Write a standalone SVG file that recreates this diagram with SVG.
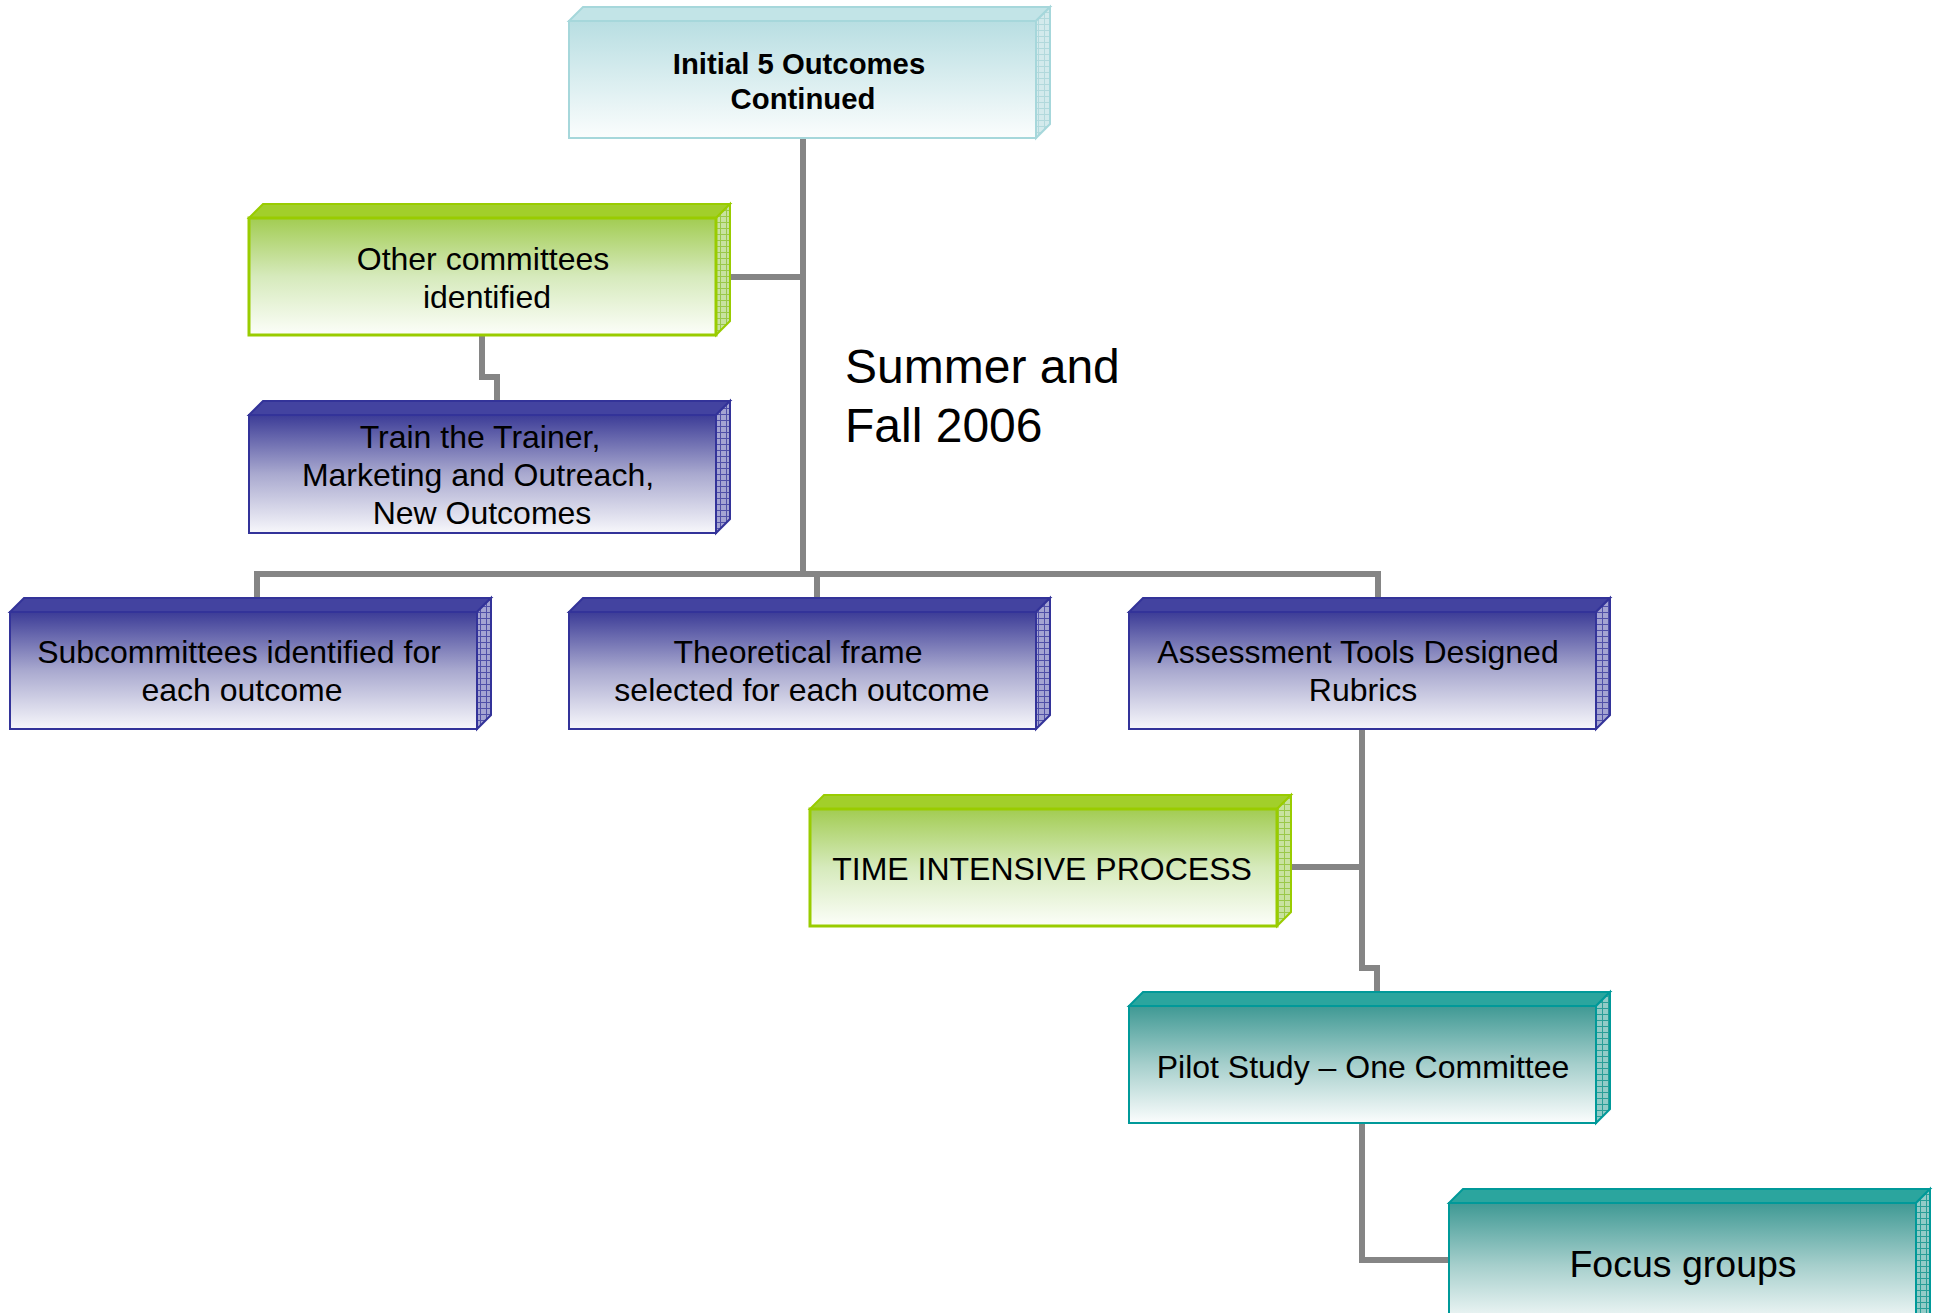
<svg xmlns="http://www.w3.org/2000/svg" width="1939" height="1313" viewBox="0 0 1939 1313">
<style>
  .t { font-family: "Liberation Sans", Arial, sans-serif; font-size: 32px; fill: #000; text-anchor: middle; }
  .tb { font-weight: bold; font-size: 29.3px; }
  .conn { fill: none; stroke: #858585; stroke-width: 6; stroke-linejoin: miter; stroke-linecap: butt; }
  .cy .front { fill: url(#gCy); stroke: #a6d7db; stroke-width: 2; }
  .cy .top { fill: #c2e4e7; stroke: #a6d7db; stroke-width: 2; }
  .cy .side { fill: url(#pCy); stroke: #a6d7db; stroke-width: 2; }
  .gr .front { fill: url(#gGr); stroke: #99cc00; stroke-width: 3; }
  .gr .top { fill: #a2cf2a; stroke: #99cc00; stroke-width: 2; }
  .gr .side { fill: url(#pGr); stroke: #99cc00; stroke-width: 2; }
  .bl .front { fill: url(#gBl); stroke: #333399; stroke-width: 2; }
  .bl .top { fill: #4343a0; stroke: #333399; stroke-width: 2; }
  .bl .side { fill: url(#pBl); stroke: #333399; stroke-width: 2; }
  .te .front { fill: url(#gTe); stroke: #009999; stroke-width: 2; }
  .te .top { fill: #2ba59e; stroke: #009999; stroke-width: 2; }
  .te .side { fill: url(#pTe); stroke: #009999; stroke-width: 2; }
</style>
<defs>
  <linearGradient id="gCy" x1="0" y1="0" x2="0" y2="1">
    <stop offset="0" stop-color="#b8dee2"/>
    <stop offset="1" stop-color="#fbfdfd"/>
  </linearGradient>
  <linearGradient id="gGr" x1="0" y1="0" x2="0" y2="1">
    <stop offset="0" stop-color="#a2cc52"/>
    <stop offset="0.5" stop-color="#d6eabc"/>
    <stop offset="1" stop-color="#fcfef9"/>
  </linearGradient>
  <linearGradient id="gBl" x1="0" y1="0" x2="0" y2="1">
    <stop offset="0" stop-color="#3c3c97"/>
    <stop offset="0.5" stop-color="#a9a9cf"/>
    <stop offset="1" stop-color="#f7f7fb"/>
  </linearGradient>
  <linearGradient id="gTe" x1="0" y1="0" x2="0" y2="1">
    <stop offset="0" stop-color="#3f9994"/>
    <stop offset="0.5" stop-color="#a6cfcc"/>
    <stop offset="1" stop-color="#fbfdfd"/>
  </linearGradient>
  <pattern id="pCy" width="6" height="6" patternUnits="userSpaceOnUse">
    <rect width="6" height="6" fill="#d3eaec"/>
    <path d="M0 0.5H6M0.5 0V6" stroke="#b2d9dc" stroke-width="1"/>
  </pattern>
  <pattern id="pGr" width="6" height="6" patternUnits="userSpaceOnUse">
    <rect width="6" height="6" fill="#c8e2a0"/>
    <path d="M0 0.5H6M0.5 0V6" stroke="#9ac84a" stroke-width="1"/>
  </pattern>
  <pattern id="pBl" width="6" height="6" patternUnits="userSpaceOnUse">
    <rect width="6" height="6" fill="#a4a4d2"/>
    <path d="M0 0.5H6M0.5 0V6" stroke="#5050a8" stroke-width="1"/>
  </pattern>
  <pattern id="pTe" width="6" height="6" patternUnits="userSpaceOnUse">
    <rect width="6" height="6" fill="#92cbc7"/>
    <path d="M0 0.5H6M0.5 0V6" stroke="#2a9e97" stroke-width="1"/>
  </pattern>
</defs>

<rect width="1939" height="1313" fill="#ffffff"/>

<g id="connectors">
  <path class="conn" d="M803 138V574"/>
  <path class="conn" d="M730 277H803"/>
  <path class="conn" d="M257 600V574H1378V600"/>
  <path class="conn" d="M817 574V600"/>
  <path class="conn" d="M482 335V377H497V403"/>
  <path class="conn" d="M1362 729V968H1377V994"/>
  <path class="conn" d="M1290 867H1362"/>
  <path class="conn" d="M1362 1123V1260H1449"/>
</g>

<g id="node-initial" class="cy">
  <polygon class="top" points="569,21 583,7 1050,7 1036,21"/>
  <polygon class="side" points="1036,21 1050,7 1050,124 1036,138"/>
  <rect class="front" x="569" y="21" width="467" height="117"/>
  <text class="t tb" x="799" y="74">Initial 5 Outcomes</text>
  <text class="t tb" x="803" y="109">Continued</text>
</g>

<g id="node-other" class="gr">
  <polygon class="top" points="249,218 263,204 730,204 716,218"/>
  <polygon class="side" points="716,218 730,204 730,321 716,335"/>
  <rect class="front" x="249" y="218" width="467" height="117"/>
  <text class="t" x="483" y="270">Other committees</text>
  <text class="t" x="487" y="308">identified</text>
</g>

<g id="node-train" class="bl">
  <polygon class="top" points="249,415 263,401 730,401 716,415"/>
  <polygon class="side" points="716,415 730,401 730,519 716,533"/>
  <rect class="front" x="249" y="415" width="467" height="118"/>
  <text class="t" x="480" y="448">Train the Trainer,</text>
  <text class="t" x="478" y="486">Marketing and Outreach,</text>
  <text class="t" x="482" y="524">New Outcomes</text>
</g>

<g id="node-subcommittees" class="bl">
  <polygon class="top" points="10,612 24,598 491,598 477,612"/>
  <polygon class="side" points="477,612 491,598 491,715 477,729"/>
  <rect class="front" x="10" y="612" width="467" height="117"/>
  <text class="t" x="239" y="663">Subcommittees identified for</text>
  <text class="t" x="242" y="701">each outcome</text>
</g>

<g id="node-theoretical" class="bl">
  <polygon class="top" points="569,612 583,598 1050,598 1036,612"/>
  <polygon class="side" points="1036,612 1050,598 1050,715 1036,729"/>
  <rect class="front" x="569" y="612" width="467" height="117"/>
  <text class="t" x="798" y="663">Theoretical frame</text>
  <text class="t" x="802" y="701">selected for each outcome</text>
</g>

<g id="node-assessment" class="bl">
  <polygon class="top" points="1129,612 1143,598 1610,598 1596,612"/>
  <polygon class="side" points="1596,612 1610,598 1610,715 1596,729"/>
  <rect class="front" x="1129" y="612" width="467" height="117"/>
  <text class="t" x="1358" y="663">Assessment Tools Designed</text>
  <text class="t" x="1363" y="701">Rubrics</text>
</g>

<g id="node-time" class="gr">
  <polygon class="top" points="810,809 824,795 1291,795 1277,809"/>
  <polygon class="side" points="1277,809 1291,795 1291,912 1277,926"/>
  <rect class="front" x="810" y="809" width="467" height="117"/>
  <text class="t" x="1042" y="880">TIME INTENSIVE PROCESS</text>
</g>

<g id="node-pilot" class="te">
  <polygon class="top" points="1129,1006 1143,992 1610,992 1596,1006"/>
  <polygon class="side" points="1596,1006 1610,992 1610,1109 1596,1123"/>
  <rect class="front" x="1129" y="1006" width="467" height="117"/>
  <text class="t" x="1363" y="1078">Pilot Study – One Committee</text>
</g>

<g id="node-focus" class="te">
  <polygon class="top" points="1449,1203 1463,1189 1930,1189 1916,1203"/>
  <polygon class="side" points="1916,1203 1930,1189 1930,1320 1916,1330"/>
  <rect class="front" x="1449" y="1203" width="467" height="125"/>
  <text class="t" x="1683" y="1277" style="font-size:37.5px">Focus groups</text>
</g>

<g id="label-period">
  <text x="845" y="383" style="font-family:'Liberation Sans', Arial, sans-serif; font-size:48px; fill:#000">Summer and</text>
  <text x="845" y="442" style="font-family:'Liberation Sans', Arial, sans-serif; font-size:48px; fill:#000">Fall 2006</text>
</g>
</svg>
